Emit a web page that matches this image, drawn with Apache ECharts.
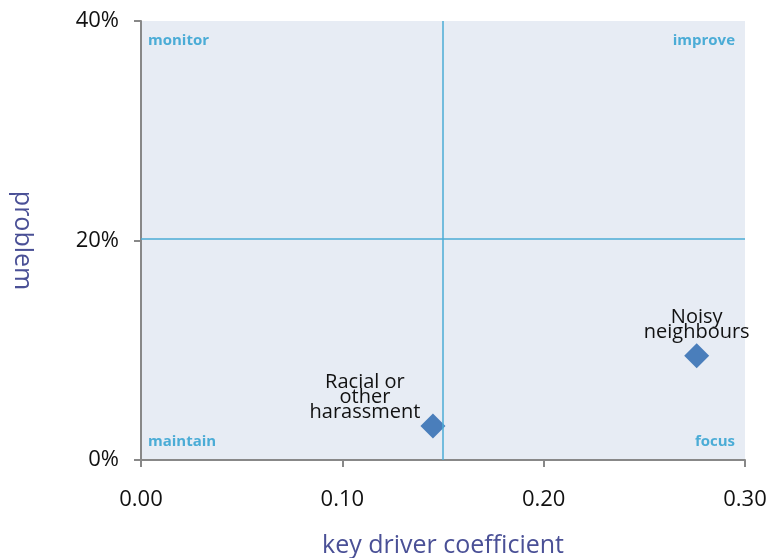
<!DOCTYPE html>
<html><head><meta charset="utf-8">
<script src="https://cdn.jsdelivr.net/npm/echarts@6/dist/echarts.min.js"></script>
<style>html,body{margin:0;padding:0;background:#fff}#c{width:776px;height:558px}</style>
</head><body><div id="c"></div>
<script>
var names = ['Racial or\nother\nharassment', 'Noisy\nneighbours'];
var xValues = [0.145, 0.276];
var yValues = [3.1, 9.5];
var refX = 0.149;
var refY = 20.2;
var xTicks = { min: 0, max: 0.3, interval: 0.1 };
var yTicks = { min: 0, max: 40, interval: 20 };
var quadrantNames = ['monitor', 'improve', 'maintain', 'focus'];
var quadrantX = [0, 0.3, 0, 0.3];
var quadrantY = [40, 40, 0, 0];

var FONT = '"Open Sans", "Noto Sans", sans-serif';
var chart = echarts.init(document.getElementById('c'));
var pts = names.map(function (n, i) { return { name: n, value: [xValues[i], yValues[i]] }; });
pts[0].label = { position: 'top', distance: 0, offset: [-68, 6] };
pts[1].label = { position: 'top', distance: 2, offset: [0, -1] };

var qPts = quadrantNames.map(function (n, i) {
  var top = quadrantY[i] > 0, left = quadrantX[i] === 0;
  return {
    name: n, value: [quadrantX[i], quadrantY[i]],
    label: {
      align: left ? 'left' : 'right',
      verticalAlign: top ? 'top' : 'bottom',
      offset: [left ? 7 : -10, top ? 12 : -11]
    }
  };
});

chart.setOption({
  animation: false,
  textStyle: { fontFamily: FONT },
  grid: { left: 141, right: 31, top: 21, bottom: 98, show: true, backgroundColor: '#e7ecf4', borderWidth: 0, containLabel: false, outerBoundsMode: 'none' },
  xAxis: {
    type: 'value', min: xTicks.min, max: xTicks.max, interval: xTicks.interval,
    name: 'key driver coefficient', nameLocation: 'middle', nameGap: 73,
    nameTextStyle: { color: '#4a5096', fontSize: 25, fontFamily: FONT },
    axisLine: { show: true, lineStyle: { color: '#888', width: 2 } },
    axisTick: { show: true, length: 7, lineStyle: { color: '#888', width: 2 } },
    axisLabel: { color: '#111', fontSize: 22, margin: 29, formatter: function (v) { return v.toFixed(2); } },
    splitLine: { show: false }
  },
  yAxis: {
    type: 'value', min: yTicks.min, max: yTicks.max, interval: yTicks.interval,
    name: 'problem', nameLocation: 'middle', nameGap: 106, nameRotate: -90,
    nameTextStyle: { color: '#4a5096', fontSize: 25, fontFamily: FONT },
    axisLine: { show: true, lineStyle: { color: '#888', width: 2 } },
    axisTick: { show: true, length: 7, lineStyle: { color: '#888', width: 2 } },
    axisLabel: { color: '#111', fontSize: 22, margin: 22, padding: [4, 0, 0, 0], formatter: '{value}%' },
    splitLine: { show: false }
  },
  series: [{
    type: 'scatter', symbol: 'diamond', symbolSize: 25,
    itemStyle: { color: '#4a7ebb', opacity: 1 },
    label: { show: true, formatter: '{b}', color: '#111', fontSize: 20, lineHeight: 15, align: 'center', fontFamily: FONT },
    data: pts,
    markLine: {
      silent: true, symbol: 'none', label: { show: false },
      lineStyle: { color: '#4bacd6', width: 1.5, type: 'solid', opacity: 1 },
      data: [{ xAxis: refX }, { yAxis: refY }]
    },
    z: 3
  }, {
    type: 'scatter', symbolSize: 0, silent: true,
    itemStyle: { opacity: 1 },
    label: { show: true, position: 'inside', formatter: '{b}', color: '#4bacd6', fontSize: 15, fontWeight: 'bold', fontFamily: FONT },
    data: qPts
  }]
});
</script></body></html>
